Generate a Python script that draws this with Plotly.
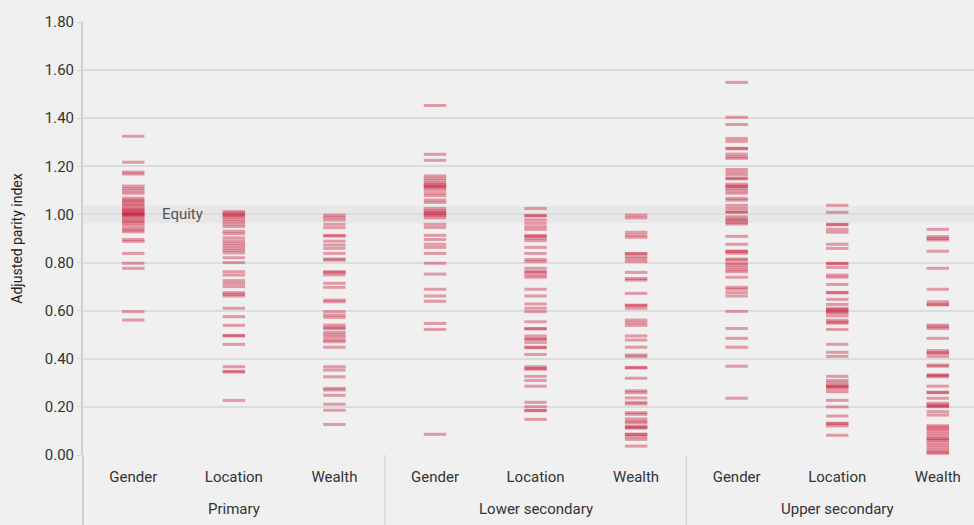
import plotly.graph_objects as go

levels = ["Primary", "Lower secondary", "Upper secondary"]
dimensions = ["Gender", "Location", "Wealth"]

primary_gender = [1.325, 1.217, 1.176, 1.168, 1.118, 1.108, 1.098, 1.088, 1.068, 1.06, 1.055, 1.048, 1.04, 1.035,
                  1.025, 1.02, 1.015, 1.01, 1.005, 1.003, 1.0, 0.997, 0.993, 0.985, 0.977, 0.97, 0.964, 0.955,
                  0.943, 0.935, 0.928, 0.896, 0.888, 0.838, 0.797, 0.776, 0.596, 0.561]
primary_location = [1.012, 1.005, 1.0, 0.995, 0.99, 0.98, 0.97, 0.96, 0.95, 0.93, 0.92, 0.903, 0.89, 0.88, 0.87,
                    0.86, 0.85, 0.84, 0.82, 0.80, 0.762, 0.748, 0.725, 0.713, 0.70, 0.675, 0.668, 0.661, 0.61,
                    0.575, 0.539, 0.497, 0.495, 0.46, 0.367, 0.348, 0.345, 0.227]
primary_wealth = [0.997, 0.988, 0.977, 0.959, 0.945, 0.913, 0.91, 0.889, 0.873, 0.859, 0.838, 0.815, 0.81, 0.762,
                  0.759, 0.749, 0.714, 0.697, 0.644, 0.637, 0.596, 0.582, 0.572, 0.54, 0.53, 0.525, 0.51, 0.50,
                  0.49, 0.478, 0.471, 0.448, 0.367, 0.353, 0.325, 0.277, 0.27, 0.248, 0.211, 0.186, 0.127]
lower_gender = [1.453, 1.25, 1.225, 1.16, 1.15, 1.14, 1.13, 1.125, 1.118, 1.115, 1.111, 1.101, 1.088, 1.078, 1.06,
                1.05, 1.025, 1.015, 1.01, 1.005, 1.0, 0.995, 0.986, 0.959, 0.946, 0.913, 0.896, 0.876, 0.863,
                0.838, 0.797, 0.752, 0.689, 0.661, 0.639, 0.547, 0.522, 0.086]
lower_location = [1.025, 0.996, 0.994, 0.977, 0.963, 0.949, 0.938, 0.912, 0.91, 0.901, 0.891, 0.863, 0.838, 0.813,
                  0.804, 0.776, 0.762, 0.76, 0.748, 0.739, 0.689, 0.661, 0.628, 0.61, 0.596, 0.554, 0.526, 0.524,
                  0.495, 0.483, 0.481, 0.468, 0.448, 0.446, 0.418, 0.367, 0.359, 0.357, 0.327, 0.31, 0.286,
                  0.219, 0.201, 0.186, 0.184, 0.148]
lower_wealth = [0.997, 0.986, 0.926, 0.914, 0.905, 0.838, 0.836, 0.824, 0.815, 0.804, 0.759, 0.734, 0.727, 0.672,
                0.623, 0.621, 0.61, 0.561, 0.55, 0.539, 0.495, 0.478, 0.448, 0.416, 0.409, 0.364, 0.362, 0.319,
                0.267, 0.259, 0.237, 0.219, 0.212, 0.176, 0.169, 0.15, 0.14, 0.133, 0.118, 0.116, 0.111, 0.087,
                0.085, 0.076, 0.065, 0.037]
upper_gender = [1.549, 1.404, 1.374, 1.316, 1.304, 1.275, 1.273, 1.251, 1.24, 1.233, 1.187, 1.175, 1.164, 1.15,
                1.148, 1.126, 1.118, 1.116, 1.108, 1.098, 1.088, 1.067, 1.059, 1.038, 1.025, 1.011, 1.009, 0.99,
                0.98, 0.975, 0.966, 0.96, 0.909, 0.876, 0.848, 0.846, 0.838, 0.815, 0.81, 0.797, 0.79, 0.78,
                0.77, 0.762, 0.739, 0.697, 0.689, 0.675, 0.661, 0.597, 0.526, 0.485, 0.448, 0.369, 0.236]
upper_location = [1.038, 1.009, 0.959, 0.957, 0.938, 0.926, 0.876, 0.859, 0.797, 0.795, 0.78, 0.748, 0.739, 0.709,
                  0.676, 0.674, 0.647, 0.626, 0.61, 0.605, 0.6, 0.595, 0.59, 0.578, 0.56, 0.552, 0.548, 0.522,
                  0.46, 0.427, 0.41, 0.327, 0.31, 0.3, 0.29, 0.285, 0.283, 0.275, 0.263, 0.227, 0.2, 0.162,
                  0.132, 0.13, 0.121, 0.082]
upper_wealth = [0.938, 0.908, 0.9, 0.894, 0.847, 0.776, 0.689, 0.637, 0.626, 0.624, 0.54, 0.533, 0.526, 0.485,
                0.434, 0.425, 0.423, 0.41, 0.374, 0.369, 0.333, 0.331, 0.325, 0.286, 0.261, 0.259, 0.236, 0.215,
                0.208, 0.203, 0.201, 0.18, 0.166, 0.122, 0.115, 0.108, 0.1, 0.09, 0.08, 0.07, 0.066, 0.06, 0.05,
                0.04, 0.03, 0.02, 0.012, 0.007]

series = {
    ("Primary", "Gender"): primary_gender,
    ("Primary", "Location"): primary_location,
    ("Primary", "Wealth"): primary_wealth,
    ("Lower secondary", "Gender"): lower_gender,
    ("Lower secondary", "Location"): lower_location,
    ("Lower secondary", "Wealth"): lower_wealth,
    ("Upper secondary", "Gender"): upper_gender,
    ("Upper secondary", "Location"): upper_location,
    ("Upper secondary", "Wealth"): upper_wealth,
}

y_ticks = [0.0, 0.2, 0.4, 0.6, 0.8, 1.0, 1.2, 1.4, 1.6, 1.8]
y_tick_labels = ["0.00", "0.20", "0.40", "0.60", "0.80", "1.00", "1.20", "1.40", "1.60", "1.80"]

cat_keys, cat_text = [], []
xs, ys = [], []
for lvl in levels:
    for dim in dimensions:
        key = f"{lvl}|{dim}"
        cat_keys.append(key)
        cat_text.append(dim)
        for v in series[(lvl, dim)]:
            xs.append(key)
            ys.append(v)

FONT = "Roboto, sans-serif"
RED = "rgb(200,16,46)"
BG = "#f0f0f0"

fig = go.Figure()
fig.add_trace(go.Scatter(
    x=xs, y=ys, mode="markers",
    marker=dict(symbol="line-ew", size=16, opacity=0.38,
                color=RED, line=dict(color=RED, width=3)),
    hoverinfo="y", showlegend=False,
))

# Equity band
fig.add_shape(type="rect", xref="paper", x0=0, x1=1, yref="y", y0=0.963, y1=1.037,
              fillcolor="rgba(0,0,0,0.035)", line=dict(width=0), layer="below")

fig.add_annotation(xref="paper", x=0.1122, xanchor="center", yref="y", y=1.0, text="Equity",
                   showarrow=False, font=dict(family=FONT, size=15, color="#555555"))

# Group labels and dividers
for i, lvl in enumerate(levels):
    fig.add_annotation(xref="x", x=f"{lvl}|Location", yref="paper", y=0, yshift=-54,
                       yanchor="middle", text=lvl, showarrow=False,
                       font=dict(family=FONT, size=15, color="#333333"))
for b in [2.5, 5.5]:
    fig.add_shape(type="line", xref="x", x0=b, x1=b, yref="paper", y0=0, y1=-0.17,
                  line=dict(color="#d8d8d8", width=1.5))
fig.add_shape(type="line", xref="paper", x0=0, x1=0, yref="paper", y0=0, y1=-0.17,
              line=dict(color="#d0d0d0", width=2))

fig.update_layout(
    width=974, height=525,
    margin=dict(l=83, r=0, t=22, b=70),
    paper_bgcolor=BG, plot_bgcolor=BG,
    font=dict(family=FONT, size=15, color="#333333"),
    xaxis=dict(
        type="category", categoryorder="array", categoryarray=cat_keys,
        tickvals=cat_keys, ticktext=cat_text,
        range=[-0.5, 8.36],
        showgrid=False, showline=False, zeroline=False,
        ticks="outside", ticklen=8, tickcolor="rgba(0,0,0,0)",
        tickfont=dict(family=FONT, size=15, color="#333333"),
    ),
    yaxis=dict(
        range=[0, 1.8], tickvals=y_ticks, ticktext=y_tick_labels,
        showgrid=True, gridcolor="#dcdcdc", gridwidth=1.5,
        zeroline=False, showline=True, linecolor="#d0d0d0", linewidth=2,
        ticks="outside", ticklen=4, tickcolor="#d0d0d0",
        title=dict(text="Adjusted parity index", font=dict(family=FONT, size=14, color="#222222"), standoff=19),
        tickfont=dict(family=FONT, size=15, color="#333333"),
    ),
)

fig.write_html("out.html", config={"displayModeBar": False},
               post_script="document.body.style.margin='0';document.body.style.background='#f0f0f0';")
